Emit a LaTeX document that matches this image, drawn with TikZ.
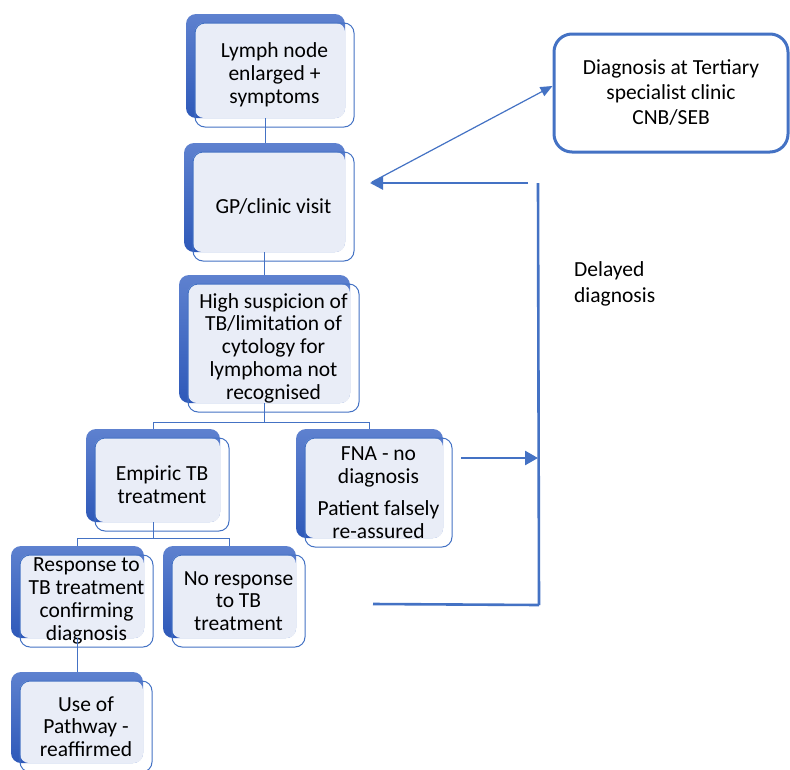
\documentclass[tikz,border=0pt]{standalone}
\usepackage{fontspec}
\setmainfont{Carlito}
\usetikzlibrary{arrows.meta}
\definecolor{accent}{RGB}{68,114,196}
\definecolor{backtop}{RGB}{94,129,207}
\definecolor{backbot}{RGB}{46,89,185}
\definecolor{frontfill}{RGB}{233,237,247}
\tikzset{
  backbox/.style={shade, top color=backtop, bottom color=backbot, rounded corners=10pt, inner sep=0pt, draw=none},
  frontbg/.style={fill=frontfill, rounded corners=9pt, inner sep=0pt, draw=none},
  frontbox/.style={draw=accent, line width=1pt, rounded corners=10pt, inner sep=0pt, align=center, font=\fontsize{21.5}{22.8}\selectfont},
  conn/.style={draw=accent, line width=0.9pt},
  bigline/.style={draw=accent, line width=2.6pt},
  thinline/.style={draw=accent, line width=1.2pt},
  tertbox/.style={draw=accent, line width=3pt, fill=white, rounded corners=18pt, inner sep=0pt, align=center, minimum width=234pt, minimum height=118pt, font=\fontsize{21.5}{25}\selectfont},
}
\newcommand\smbox[6]{%
  \node[backbox, minimum width={(#4-#2)*1pt}, minimum height={(#5-#3)*1pt}] (#1b) at ({(#2+#4)/2},{(#3+#5)/2}) {};
  \node[frontbg, minimum width={(#4-#2-9)*1pt}, minimum height={(#5-#3-9)*1pt}] (#1f) at ({(#2+#4+9)/2},{(#3+#5+9)/2}) {};
  \node[frontbox, minimum width={(#4-#2)*1pt}, minimum height={(#5-#3)*1pt}] (#1) at ({(#2+#4)/2+9},{(#3+#5)/2+9}) {#6};
}
\begin{document}
\begin{tikzpicture}[x=1pt,y=-1pt]
\clip (0,0) rectangle (790,769);
\fill[white] (0,0) rectangle (790,769);

\smbox{lymph}{186}{14}{345}{118}{Lymph node\\enlarged +\\symptoms}
\smbox{gp}{184}{143}{345}{252}{GP/clinic visit}
\smbox{susp}{179}{275}{350}{403}{High suspicion of\\TB/limitation of\\cytology for\\lymphoma not\\recognised}
\smbox{emp}{86}{429}{220}{522}{Empiric TB\\treatment}
\smbox{fna}{296}{429}{443}{538}{FNA - no\\diagnosis\\[9pt]Patient falsely\\re-assured}
\smbox{resp}{11}{546}{144}{638}{Response to\\TB treatment\\confirming\\diagnosis}
\smbox{nores}{163}{546}{296}{638}{No response\\to TB\\treatment}
\smbox{use}{11}{672}{143}{763}{Use of\\Pathway -\\reaffirmed}

% tree connectors
\draw[conn] (lymphb.south) -- (lymphb.south |- gpb.north);
\draw[conn] (gpb.south) -- (gpb.south |- suspb.north);
\draw[conn] (suspb.south) -- ++(0,19) coordinate (sj);
\draw[conn] (sj) -| (empb.north);
\draw[conn] (sj) -| (fnab.north);
\draw[conn] (empb.south) -- ++(0,16) coordinate (ej);
\draw[conn] (ej) -| (respb.north);
\draw[conn] (ej) -| (noresb.north);
\draw[conn] (respb.south) -- (respb.south |- useb.north);

% tertiary box
\node[tertbox] (tert) at (671,93) {Diagnosis at Tertiary\\specialist clinic\\CNB/SEB};

% delayed diagnosis loop
\coordinate (hA) at (528,183);
\coordinate (hB) at (370,183);
\coordinate (vT) at (538,183);
\coordinate (vB) at (539,605);
\coordinate (bL) at (373,604);
\coordinate (fA) at (461,458);
\coordinate (fB) at (538,458);
\coordinate (dA) at (372,182);
\draw[bigline, -{Triangle[length=13pt,width=13pt]}] (hA) -- (hB);
\draw[bigline] (vT) -- (vB);
\draw[bigline] (bL) -- (vB);
\draw[bigline, -{Triangle[length=13pt,width=14pt]}] (fA) -- (fB);
\draw[thinline, -{Triangle[length=12pt,width=10pt]}] (dA) -- ([yshift=7pt]tert.west);

\node[anchor=west, align=left, inner sep=0pt, font=\fontsize{21.5}{26}\selectfont] (delay) at (574,284) {Delayed\\diagnosis};
\end{tikzpicture}
\end{document}
